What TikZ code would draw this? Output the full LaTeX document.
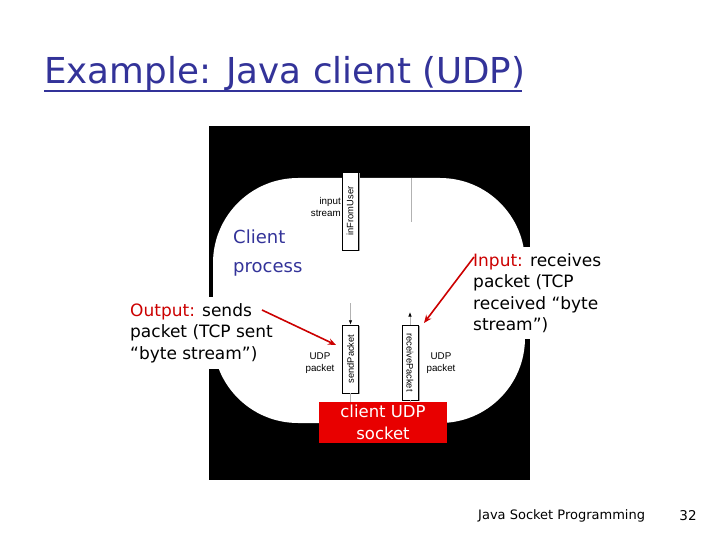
\documentclass[tikz,border=0pt]{standalone}
\usepackage{fontspec}
\setmainfont{DejaVu Sans}
\newfontfamily\arialfont{Liberation Sans}
\usetikzlibrary{arrows.meta,shadows}
\definecolor{titleblue}{RGB}{51,51,153}
\definecolor{labelred}{RGB}{204,0,0}
\definecolor{sockred}{RGB}{232,0,0}
\tikzset{
  pbox/.style={draw=black, fill=white, line width=0.5pt, inner sep=0pt,
    minimum width=16pt, font=\arialfont\fontsize{9.3}{10}\selectfont,
    drop shadow={shadow xshift=1.6pt, shadow yshift=-0.8pt, fill=gray!70, opacity=1}},
  smalllabel/.style={font=\arialfont\fontsize{9.8}{12}\selectfont, inner sep=0pt, align=center},
  thinline/.style={draw=gray!60, line width=0.7pt},
  smalltip/.style={-{Latex[black,length=4.5pt,width=3.5pt]}},
  bigtext/.style={font=\fontsize{17}{21.5}\selectfont, align=left},
  whitelabel/.style={bigtext, fill=white, inner xsep=3pt, inner ysep=6pt, anchor=north west},
  redarrow/.style={draw=labelred, line width=1.6pt, -{Stealth[length=8pt,width=6.5pt]}}
}
\begin{document}
\begin{tikzpicture}[x=1pt,y=-1pt]
\useasboundingbox (0,0) rectangle (720,540);
\fill[white] (0,0) rectangle (720,540);

% title
\node[anchor=base west, inner sep=0pt, text=titleblue, font=\fontsize{35.7}{40}\selectfont] (title) at (44,84) {Example: Java client (UDP)};
\draw[titleblue, line width=2.4pt] (title.base west) ++(0,7) -- ++(478,0);

% black frame and white process area
\fill[black] (209,126) rectangle (530,480);
\fill[white, rounded corners=85pt] (213,178) rectangle (525,423);

% thin vertical line
\coordinate (vltop) at (411,178);
\coordinate (vlbot) at (411,222);
\draw[thinline] (vltop) -- (vlbot);

% boxes
\node[pbox, minimum height=78pt] (infrom) at (350,211) {\rotatebox{90}{inFromUser}};
\node[pbox, minimum height=68pt] (send) at (350.5,359) {\rotatebox{90}{sendPacket}};
\node[pbox, minimum height=75pt] (recv) at (410,362.5) {\rotatebox{-90}{receivePacket}};

\node[smalllabel, anchor=east, align=right] (instream) at (341,207) {input\\stream};
\node[smalllabel] (udpl) at (320,363) {UDP\\packet};
\node[smalllabel] (udpr) at (441,363) {UDP\\packet};

% socket
\node[fill=sockred, minimum width=128pt, minimum height=41pt, inner sep=0pt, text=white,
  font=\fontsize{16.5}{22}\selectfont, align=center] (sock) at (383,422.5) {client UDP\\socket};

% connectors
\coordinate (sendtop) at (350.5,303);
\coordinate (recvtop) at (410,312);
\draw[thinline, smalltip] (sendtop) -- (send.north);
\draw[thinline, smalltip] (recv.north) -- (recvtop);
\draw[thinline] (send.south) -- (send.south |- sock.north);
\draw[thinline] (recv.south) -- (recv.south |- sock.north);

% client process
\node[anchor=north west, inner sep=0pt, text=titleblue, font=\fontsize{18}{29}\selectfont, align=left] (cproc) at (233,230) {Client\\process};

% labels
\node[whitelabel] (outlab) at (127,297) {{\color{labelred}Output:} sends\\packet (TCP sent\\“byte stream”)};
\node[whitelabel] (inlab) at (470,247) {{\color{labelred}Input:} receives\\packet (TCP\\received “byte\\stream”)};

\coordinate (outtail) at (262,310);
\coordinate (outhead) at (336,345);
\coordinate (intail) at (474,257);
\coordinate (inhead) at (424,323);
\draw[redarrow] (outtail) -- (outhead);
\draw[redarrow] (intail) -- (inhead);

% footer
\node[anchor=west, inner sep=0pt, font=\fontsize{13}{15}\selectfont] (foot) at (478,516) {Java Socket Programming};
\node[inner sep=0pt, font=\fontsize{13.5}{15}\selectfont] (pnum) at (688,516) {32};
\end{tikzpicture}
\end{document}
